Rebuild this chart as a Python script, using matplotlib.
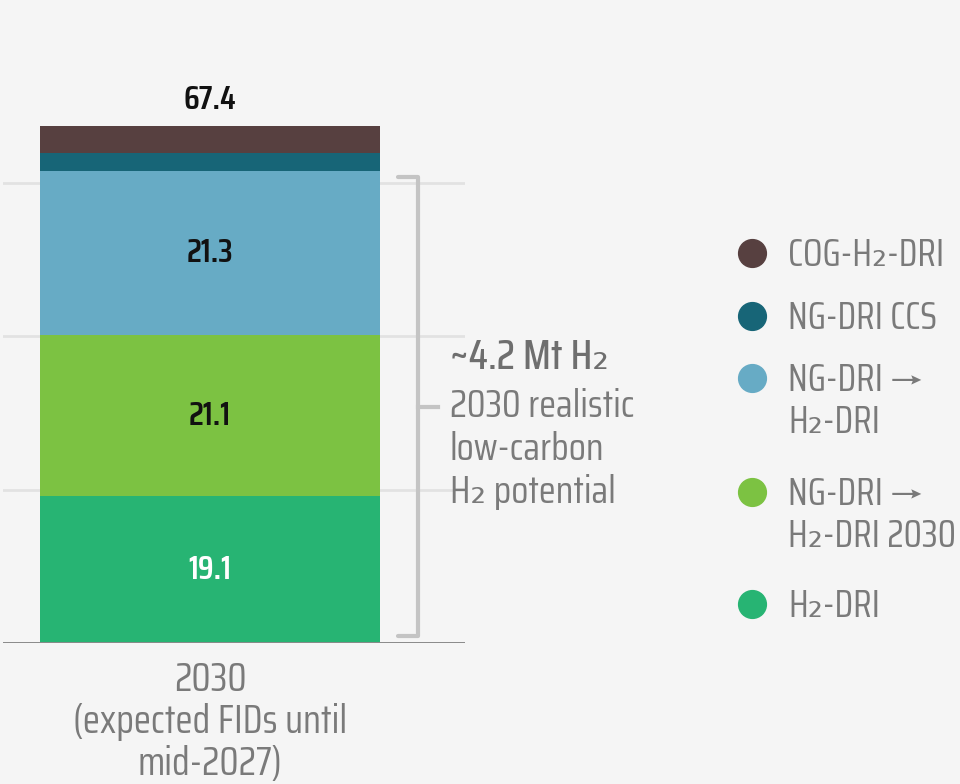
import matplotlib
matplotlib.use("Agg")
import matplotlib.pyplot as plt
from matplotlib.lines import Line2D

# ---------------- data ----------------
category = "2030\n(expected FIDs until\nmid-2027)"
series = ["H₂-DRI", "NG-DRI →\nH₂-DRI 2030", "NG-DRI →\nH₂-DRI", "NG-DRI CCS", "COG-H₂-DRI"]
values = [19.1, 21.1, 21.3, 2.4, 3.5]
shown = [True, True, True, False, False]
colors = ["#27b473", "#7cc242", "#67abc5", "#176577", "#574040"]
label_colors = ["white", "#111111", "#111111", None, None]
total = 67.4
bracket_note = ["~4.2 Mt H₂", "2030 realistic", "low-carbon", "H₂ potential"]

FONT = ["Saira Condensed", "DejaVu Sans"]
BG = "#f5f5f5"
GREY = "#7a7a7a"

fig = plt.figure(figsize=(9.6, 7.84), dpi=100, facecolor=BG)
W, H = 960, 784


def fx(px):
    return px / W


def fy(py):
    return 1 - py / H


ax = fig.add_axes([fx(3), fy(643), fx(462), 583 / H])
ax.set_facecolor(BG)
ax.set_xlim(-0.609, 0.75)
ax.set_ylim(0, 76)

# grid + baseline
for g in (20, 40, 60):
    ax.axhline(g, color="#e2e2e2", lw=2, zorder=0)
ax.axhline(0, color="#8a8a8a", lw=1.4, zorder=3)

# stacked bar
bottom = 0
for name, v, c, show, lc in zip(series, values, colors, shown, label_colors):
    ax.bar(0, v, width=1.0, bottom=bottom, color=c, zorder=2)
    if show:
        ax.text(0, bottom + v / 2, f"{v:.1f}", ha="center", va="center",
                fontsize=24, color=lc, family=FONT, fontweight="semibold")
    bottom += v
ax.text(0, total + 3.4, f"{total:.1f}", ha="center", va="center",
        fontsize=24, color="#111111", family=FONT, fontweight="semibold")

# bracket around the low-carbon part
low = sum(values[:3])
y0, y1 = 0.9, low - 0.8
bx, hook = 0.612, 0.553
ax.plot([hook, bx, bx, hook], [y1, y1, y0, y0], color="#c4c4c4", lw=3,
        solid_joinstyle="round", solid_capstyle="round", zorder=3, clip_on=False)
ax.plot([bx, bx + 0.06], [(y0 + y1) / 2] * 2, color="#c4c4c4", lw=3,
        zorder=3, clip_on=False)

for s in ax.spines.values():
    s.set_visible(False)
ax.set_xticks([])
ax.set_yticks([])

# category label
fig.text(fx(210), fy(722), category, ha="center", va="center", fontsize=28.5,
         color=GREY, family=FONT, linespacing=1.12)

# bracket note
fig.text(fx(450), fy(357), bracket_note[0], ha="left", va="center",
         fontsize=30, color="#6e6e6e", family=FONT, fontweight="medium")
fig.text(fx(450), fy(449), "\n".join(bracket_note[1:]), ha="left",
         va="center", fontsize=28, color=GREY, family=FONT, linespacing=1.24)

# legend, top entry first
lax = fig.add_axes([0, 0, 1, 1])
lax.set_xlim(0, W)
lax.set_ylim(H, 0)
lax.axis("off")
legend_y = [253, 316, 378, 492, 604]
for name, c, ly in zip(series[::-1], colors[::-1], legend_y):
    lax.add_line(Line2D([752], [ly], marker="o", markersize=20, color=c,
                        linestyle="none"))
    lax.text(788, ly - 16, name, ha="left", va="top", fontsize=27,
             color=GREY, family=FONT, linespacing=1.2)

fig.savefig("out.png", dpi=100, facecolor=BG)
